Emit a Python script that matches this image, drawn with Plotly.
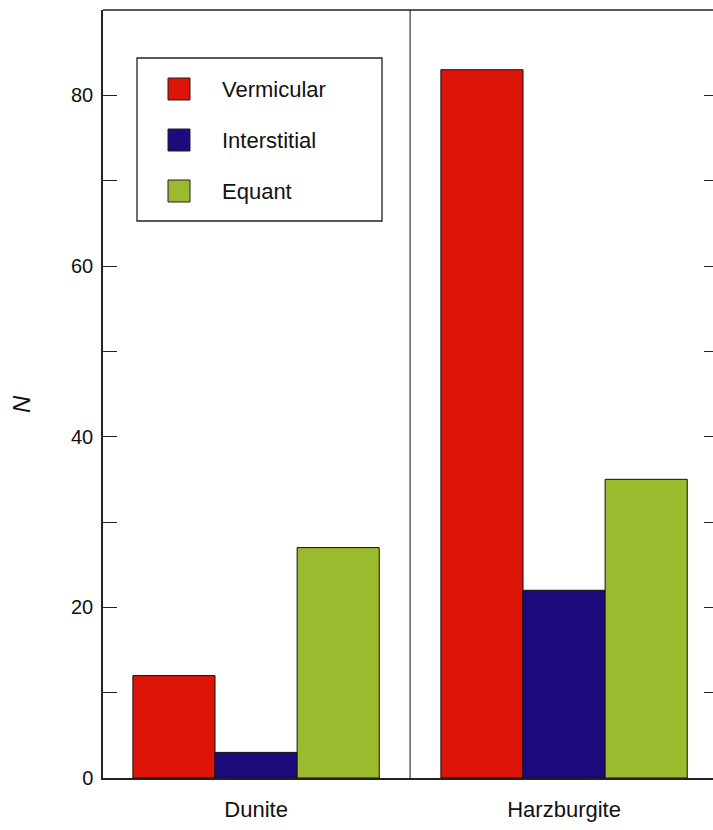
import plotly.graph_objects as go

# Counts of grain textures per lithology
lithologies = ["Dunite", "Harzburgite"]
textures = ["Vermicular", "Interstitial", "Equant"]
vermicular = [12, 83]
interstitial = [3, 22]
equant = [27, 35]
colors = ["#DD1508", "#1C0B7C", "#9BBB2F"]

y_ticks = [0, 10, 20, 30, 40, 50, 60, 70, 80, 90]
y_tick_text = ["0", "", "20", "", "40", "", "60", "", "80", ""]

W, H = 713, 830
M_L, M_R, M_T, M_B = 103, 0, 10, 52
PW, PH = W - M_L - M_R, H - M_T - M_B
CAT_PX = 308  # pixel width of one category slot
X0 = -0.497   # left end of the category axis

FONT = "Liberation Sans, Arial, Helvetica, sans-serif"


def px(xp):
    return (xp - M_L) / PW


def py(yp):
    return (H - M_B - yp) / PH


fig = go.Figure()
for name, vals, col in zip(textures, [vermicular, interstitial, equant], colors):
    fig.add_trace(go.Bar(
        name=name, x=lithologies, y=vals,
        marker=dict(color=col, line=dict(color="#111111", width=1)),
        showlegend=False,
    ))

# helper trace to carry the right-hand tick axis
fig.add_trace(go.Scatter(x=[], y=[], yaxis="y2", showlegend=False, hoverinfo="skip"))

shapes = [
    # category separator
    dict(type="line", xref="x", yref="paper", x0=0.5, x1=0.5, y0=0, y1=1,
         line=dict(color="#111111", width=1)),
    # top frame
    dict(type="line", xref="paper", yref="paper", x0=0, x1=1, y0=1, y1=1,
         line=dict(color="#222222", width=1.5)),
    # legend box
    dict(type="rect", xref="paper", yref="paper",
         x0=px(137), x1=px(382), y0=py(221), y1=py(58),
         line=dict(color="#222222", width=1.3), fillcolor="white"),
]
annotations = []
row_y = [89, 140, 191]
for name, col, yc in zip(textures, colors, row_y):
    shapes.append(dict(type="rect", xref="paper", yref="paper",
                       x0=px(168), x1=px(190), y0=py(yc + 11), y1=py(yc - 11),
                       line=dict(color="#222222", width=1), fillcolor=col))
    annotations.append(dict(xref="paper", yref="paper", x=px(220), y=py(yc + 1),
                            text=name, showarrow=False, xanchor="left", yanchor="middle",
                            font=dict(family=FONT, size=22, color="#111111")))

annotations.append(dict(xref="paper", yref="paper", x=px(22), y=py(404),
                        text="<i>N</i>", showarrow=False, textangle=-90,
                        xanchor="center", yanchor="middle",
                        font=dict(family=FONT, size=24, color="#111111")))

fig.update_layout(
    width=W, height=H,
    margin=dict(l=M_L, r=M_R, t=M_T, b=M_B, pad=0),
    paper_bgcolor="white", plot_bgcolor="white",
    barmode="group", bargap=0.2, bargroupgap=0,
    font=dict(family=FONT, size=20, color="#111111"),
    shapes=shapes, annotations=annotations,
    xaxis=dict(
        range=[X0, X0 + PW / CAT_PX], showgrid=False, zeroline=False,
        showline=True, linecolor="#222222", linewidth=1.5, ticks="",
        tickfont=dict(family=FONT, size=22, color="#111111"),
        ticklabelstandoff=11,
    ),
    yaxis=dict(
        range=[0, 90], tickvals=y_ticks, ticktext=y_tick_text,
        showgrid=False, zeroline=False, showline=True, linecolor="#222222",
        linewidth=1.5, ticks="inside", ticklen=14, tickcolor="#222222", tickwidth=1,
        tickfont=dict(family=FONT, size=20, color="#111111"),
        ticklabelstandoff=4,
    ),
    yaxis2=dict(
        range=[0, 90], tickvals=y_ticks, overlaying="y", side="right", anchor="x",
        showgrid=False, zeroline=False, showline=False, showticklabels=False,
        ticks="inside", ticklen=9, tickcolor="#222222", tickwidth=1,
    ),
    hovermode="closest",
)

fig.write_html("out.html")
